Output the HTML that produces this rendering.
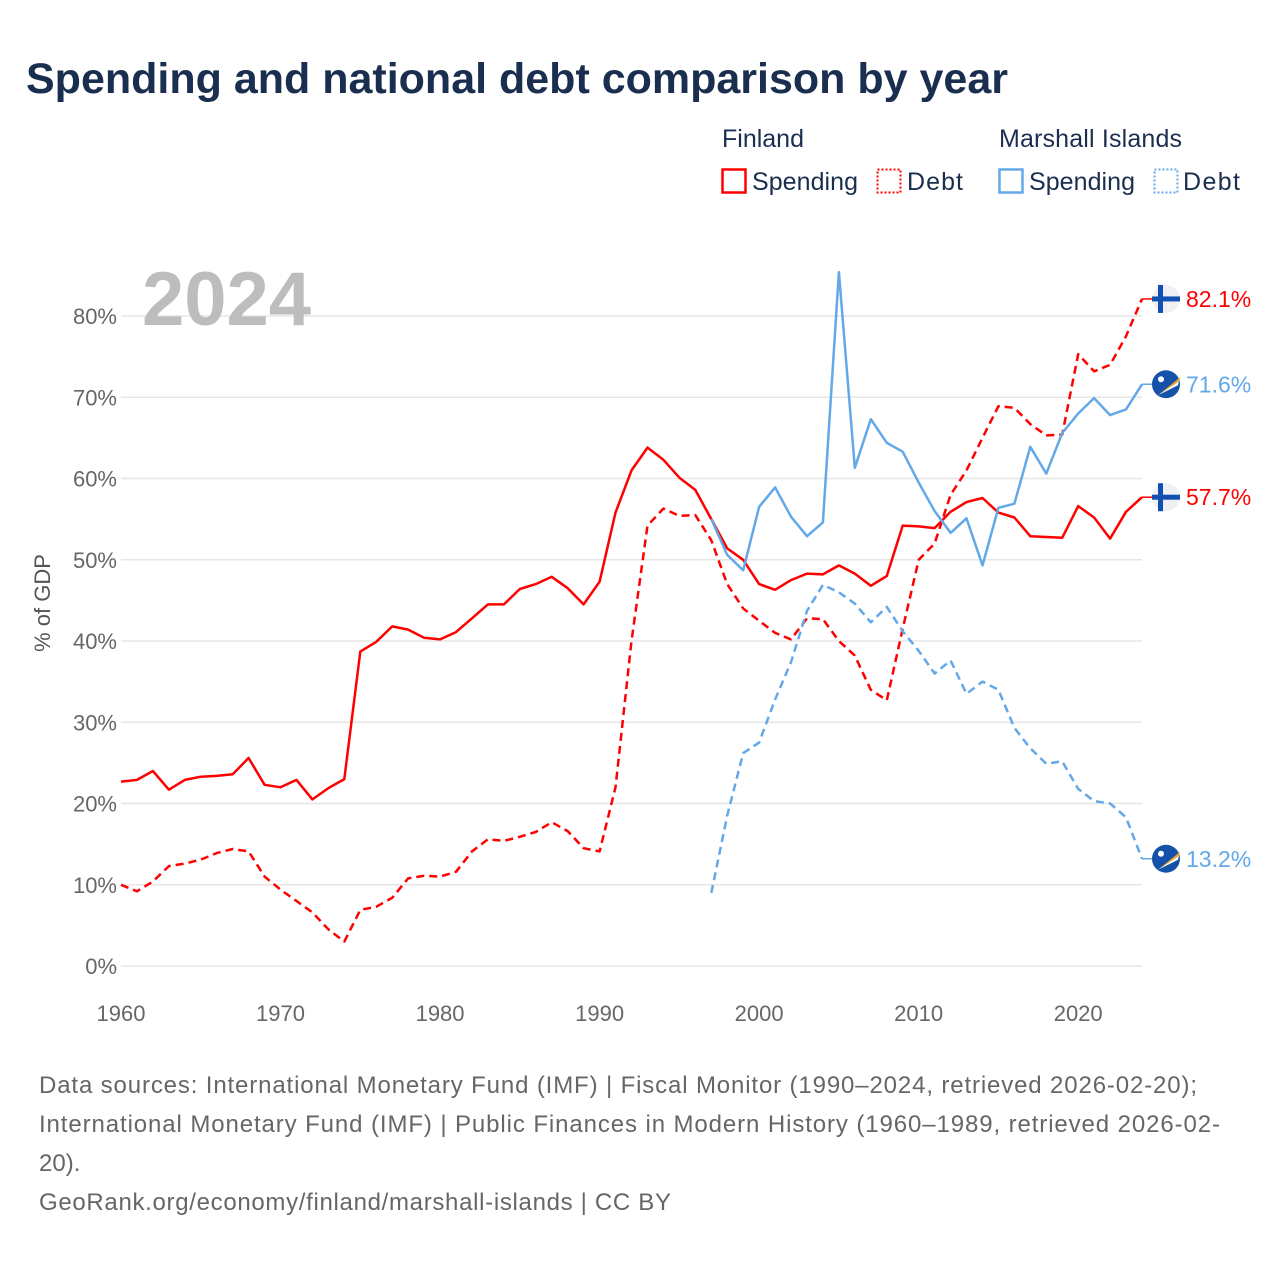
<!DOCTYPE html>
<html><head><meta charset="utf-8"><style>
body{margin:0;background:#fff;font-family:"Liberation Sans",sans-serif;}
svg{display:block}
</style></head><body>
<svg id="chart" width="1280" height="1280" xmlns="http://www.w3.org/2000/svg">
<rect width="1280" height="1280" fill="#fff"/>
<text x="26" y="93" font-size="43" font-weight="bold" fill="#1a2e4f">Spending and national debt comparison by year</text>
<g font-size="25" fill="#1a2e4f">
<text x="722" y="147">Finland</text>
<text x="999" y="147" textLength="183">Marshall Islands</text>
<g><rect x="722.5" y="169.5" width="23" height="23" fill="none" stroke="#f00" stroke-width="2.5"/><text x="752" y="190" textLength="106">Spending</text></g>
<g><rect x="877.5" y="169.5" width="23" height="23" fill="none" stroke="#f00" stroke-width="2" stroke-dasharray="2,2"/><text x="907" y="190" textLength="56">Debt</text></g>
<g><rect x="999.5" y="169.5" width="23" height="23" fill="none" stroke="#63a8e8" stroke-width="2.5"/><text x="1029" y="190" textLength="106">Spending</text></g>
<g><rect x="1154.5" y="169.5" width="23" height="23" fill="none" stroke="#63a8e8" stroke-width="2" stroke-dasharray="2,2"/><text x="1183" y="190" textLength="57">Debt</text></g>
</g>
<g id="grid"></g>
<text x="142" y="325" font-size="76" font-weight="bold" fill="#bdbdbd">2024</text>
<text transform="translate(50,603) rotate(-90)" text-anchor="middle" font-size="22" fill="#555">% of GDP</text>
<g id="series"></g>
<g id="ends"></g>
<g font-size="24" fill="#666">
<text x="39" y="1093" textLength="1158">Data sources: International Monetary Fund (IMF) | Fiscal Monitor (1990–2024, retrieved 2026-02-20);</text>
<text x="39" y="1132" textLength="1181">International Monetary Fund (IMF) | Public Finances in Modern History (1960–1989, retrieved 2026-02-</text>
<text x="39" y="1171">20).</text>
<text x="39" y="1210" textLength="632">GeoRank.org/economy/finland/marshall-islands | CC BY</text>
</g>
</svg>
<script>
const finSpending = [22.7,22.9,24.0,21.7,22.9,23.3,23.4,23.6,25.6,22.3,22.0,22.9,20.5,21.9,23.0,38.7,39.9,41.8,41.4,40.4,40.2,41.1,42.8,44.5,44.5,46.4,47.0,47.9,46.5,44.5,47.3,55.8,61.0,63.8,62.3,60.1,58.6,55.0,51.4,50.0,47.0,46.3,47.5,48.3,48.2,49.3,48.3,46.8,48.0,54.2,54.1,53.9,55.9,57.1,57.6,55.8,55.2,52.9,52.8,52.7,56.6,55.2,52.6,55.9,57.7];
const finDebt = [10.0,9.2,10.4,12.3,12.6,13.1,13.9,14.4,14.1,11.0,9.4,8.0,6.6,4.5,3.0,6.9,7.3,8.4,10.8,11.1,11.0,11.6,14.1,15.6,15.4,15.9,16.5,17.7,16.6,14.5,14.1,22.0,40.0,54.2,56.3,55.4,55.5,52.4,47.0,44.0,42.5,41.0,40.2,42.8,42.7,40.0,38.2,34.0,32.7,41.5,50.0,52.0,58.0,61.0,65.0,68.9,68.7,66.7,65.3,65.4,75.3,73.2,74.0,77.5,82.1];
const finStart = 1960;
const mhlStart = 1997;
const mhlSpending = [55.0,50.6,48.7,56.5,58.9,55.3,52.9,54.6,85.4,61.3,67.3,64.4,63.3,59.5,56.0,53.3,55.1,49.3,56.4,56.9,63.9,60.6,65.6,68.0,69.9,67.8,68.5,71.6];
const mhlDebt = [9.0,18.5,26.2,27.5,32.8,37.4,43.7,46.9,46.0,44.6,42.3,44.2,41.2,38.8,36.0,37.6,33.5,35.0,34.0,29.3,26.8,24.9,25.2,21.8,20.3,20.0,18.3,13.2];
const yTicks = [0,10,20,30,40,50,60,70,80];
const xTicks = [1960,1970,1980,1990,2000,2010,2020];

const NS="http://www.w3.org/2000/svg";
const X0=121,X1=1142,Y0=966,PER=8.125;
const xs=y=>X0+(y-1960)*(X1-X0)/64;
const ys=v=>Y0-v*PER;
function mk(tag,attrs,parent){const e=document.createElementNS(NS,tag);for(const k in attrs)e.setAttribute(k,attrs[k]);parent.appendChild(e);return e;}
const grid=document.getElementById('grid');
yTicks.forEach(t=>{
  const l=mk('line',{x1:X0,x2:X1,y1:ys(t),y2:ys(t),stroke:'#e6e6e6','stroke-width':1.5},grid);
  
  
  const tx=mk('text',{x:117,y:ys(t)+8,'text-anchor':'end','font-size':22,fill:'#666'},grid);
  tx.textContent=t+'%';
  
  
});
xTicks.forEach(t=>{
  const tx=mk('text',{x:xs(t),y:1021,'text-anchor':'middle','font-size':22,fill:'#666'},grid);
  tx.textContent=t;
  
  
});
const series=document.getElementById('series');
function line(vals,start,color,dash,name){
  const d=vals.map((v,i)=>(i?'L':'M')+xs(start+i).toFixed(1)+','+ys(v).toFixed(1)).join('');
  const p=mk('path',{d:d,fill:'none',stroke:color,'stroke-width':2.5,'stroke-linejoin':'round'},series);
  if(dash)p.setAttribute('stroke-dasharray','8,5');
  
  
}
line(finSpending,finStart,'#ff0000',false,'finland-spending-line');
line(finDebt,finStart,'#ff0000',true,'finland-debt-line');
line(mhlSpending,mhlStart,'#63a8e8',false,'marshall-spending-line');
line(mhlDebt,mhlStart,'#63a8e8',true,'marshall-debt-line');

const ends=document.getElementById('ends');
function endLabel(v,color,flag,name){
  const y=ys(v),cx=1166;
  mk('line',{x1:X1,x2:cx-12,y1:y,y2:y,stroke:color,'stroke-width':1.5},ends);
  const g=mk('g',{},ends);
  
  
  if(flag==='fi'){
    mk('circle',{cx:cx,cy:y,r:14,fill:'#eef0f3'},g);
    mk('rect',{x:cx-8,y:y-14,width:5,height:28,fill:'#1150b0'},g);
    mk('rect',{x:cx-14,y:y-2.5,width:28,height:5,fill:'#1150b0'},g);
  }else{
    mk('circle',{cx:cx,cy:y,r:14,fill:'#1451a8'},g);
    mk('path',{d:`M${cx-8},${y+11} L${cx+14},${y-7} L${cx+13},${y-3} Z`,fill:'#f4a020'},g);
    mk('path',{d:`M${cx-8},${y+11} L${cx+13},${y-3} L${cx+12},${y+1} Z`,fill:'#fff'},g);
    mk('circle',{cx:cx-5,cy:y-5,r:3,fill:'#fff'},g);
  }
  const t=mk('text',{x:1186,y:y+8,'font-size':23,fill:color},ends);
  t.textContent=v.toFixed(1)+'%';
  
  
}
endLabel(finDebt[finDebt.length-1],'#ff0000','fi','finland-debt-end');
endLabel(mhlSpending[mhlSpending.length-1],'#63a8e8','mh','marshall-spending-end');
endLabel(finSpending[finSpending.length-1],'#ff0000','fi','finland-spending-end');
endLabel(mhlDebt[mhlDebt.length-1],'#63a8e8','mh','marshall-debt-end');
</script>
</body></html>
